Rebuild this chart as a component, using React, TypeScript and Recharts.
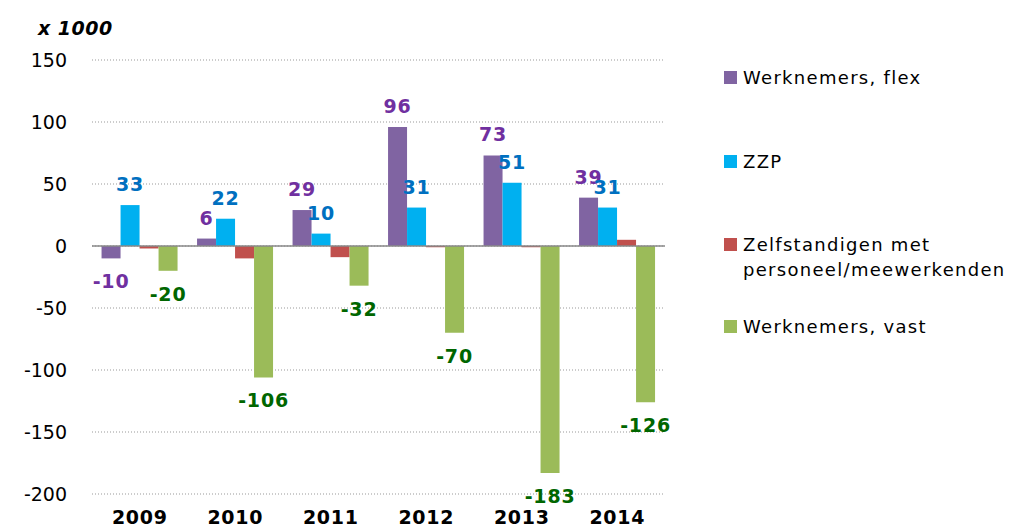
import React from 'react';
import { BarChart, Bar, XAxis, YAxis, CartesianGrid, ReferenceLine, LabelList } from 'recharts';

const years = ['2009', '2010', '2011', '2012', '2013', '2014'];
const flex = [-10, 6, 29, 96, 73, 39];
const zzp = [33, 22, 10, 31, 51, 31];
const zmp = [-2, -10, -9, -1, -1, 5];
const vast = [-20, -106, -32, -70, -183, -126];
const yTicks = [-200, -150, -100, -50, 0, 50, 100, 150];

const seriesNames = ['Werknemers, flex', 'ZZP', 'Zelfstandigen met personeel/meewerkenden', 'Werknemers, vast'];
const seriesColors = ['#8064A2', '#00B0F0', '#C0504D', '#9BBB59'];
const labelColors = ['#7030A0', '#0070C0', '', '#006600'];

const data = years.map((y, i) => ({ year: y, flex: flex[i], zzp: zzp[i], zmp: zmp[i], vast: vast[i] }));

const FONT = "'DejaVu Sans', Verdana, sans-serif";

const makeLabel = (color: string) => (props: any) => {
  const { x, y, width, height, value } = props;
  const top = Math.min(y, y + height);
  const bottom = Math.max(y, y + height);
  const cx = x + width / 2;
  const cy = value >= 0 ? top - 21 : bottom + 23;
  return (
    <text x={cx} y={cy} textAnchor="middle" dominantBaseline="central" fill={color}
      fontFamily={FONT} fontWeight="bold" fontSize={19} letterSpacing={0.8}>
      {value}
    </text>
  );
};

const LegendContent = () => {
  const items = [
    { y: 77, lines: [seriesNames[0]], c: seriesColors[0] },
    { y: 161, lines: [seriesNames[1]], c: seriesColors[1] },
    { y: 244, lines: ['Zelfstandigen met', 'personeel/meewerkenden'], c: seriesColors[2] },
    { y: 326, lines: [seriesNames[3]], c: seriesColors[3] },
  ];
  return (
    <svg width={320} height={360} style={{ position: 'absolute', left: 700, top: 0, overflow: 'visible' }}>
      {items.map((it, i) => (
        <g key={i}>
          <rect x={24} y={it.y - 6} width={13} height={13} fill={it.c} />
          {it.lines.map((l, j) => (
            <text key={j} x={43} y={it.y + j * 25} dominantBaseline="central" fontFamily={FONT} fontSize={18} letterSpacing={1.3} fill="#000">
              {l}
            </text>
          ))}
        </g>
      ))}
    </svg>
  );
};

const XTick = (props: any) => {
  const { x, y, payload } = props;
  return (
    <text x={x} y={y + 15} textAnchor="middle" dominantBaseline="central" fontFamily={FONT} fontWeight="bold" fontSize={19} letterSpacing={0.7} fill="#000">
      {payload.value}
    </text>
  );
};

const YTick = (props: any) => {
  const { y, payload } = props;
  return (
    <text x={67} y={y} textAnchor="end" dominantBaseline="central" fontFamily={FONT} fontSize={19} fill="#000">
      {payload.value}
    </text>
  );
};

export default function App() {
  const keys = ['flex', 'zzp', 'zmp', 'vast'];
  return (
    <div style={{ position: 'absolute', left: 0, top: 0, width: 1020, height: 529, background: '#fff' }}>
      <svg width={200} height={50} style={{ position: 'absolute', left: 0, top: 0 }}>
        <text x={38} y={28} dominantBaseline="central" fontFamily={FONT} fontWeight="bold" fontStyle="italic" fontSize={19} letterSpacing={0.5} fill="#000">x 1000</text>
      </svg>
      <BarChart width={1020} height={529} data={data}
        margin={{ top: 60, right: 355, bottom: 0, left: 0 }}
        barCategoryGap="10%" barGap={0}>
        <CartesianGrid vertical={false} stroke="#999" strokeDasharray="1 2" />
        <XAxis dataKey="year" axisLine={false} tickLine={false} height={35} tick={<XTick />} interval={0} />
        <YAxis domain={[-200, 150]} ticks={yTicks} axisLine={false} tickLine={false} width={92} tick={<YTick />} interval={0} />
        <ReferenceLine y={0} stroke="#888" strokeWidth={1.5} />
        {keys.map((k, i) => (
          <Bar key={k} dataKey={k} name={seriesNames[i]} fill={seriesColors[i]} isAnimationActive={false}>
            {labelColors[i] ? <LabelList dataKey={k} content={makeLabel(labelColors[i])} /> : null}
          </Bar>
        ))}
      </BarChart>
      <LegendContent />
    </div>
  );
}
